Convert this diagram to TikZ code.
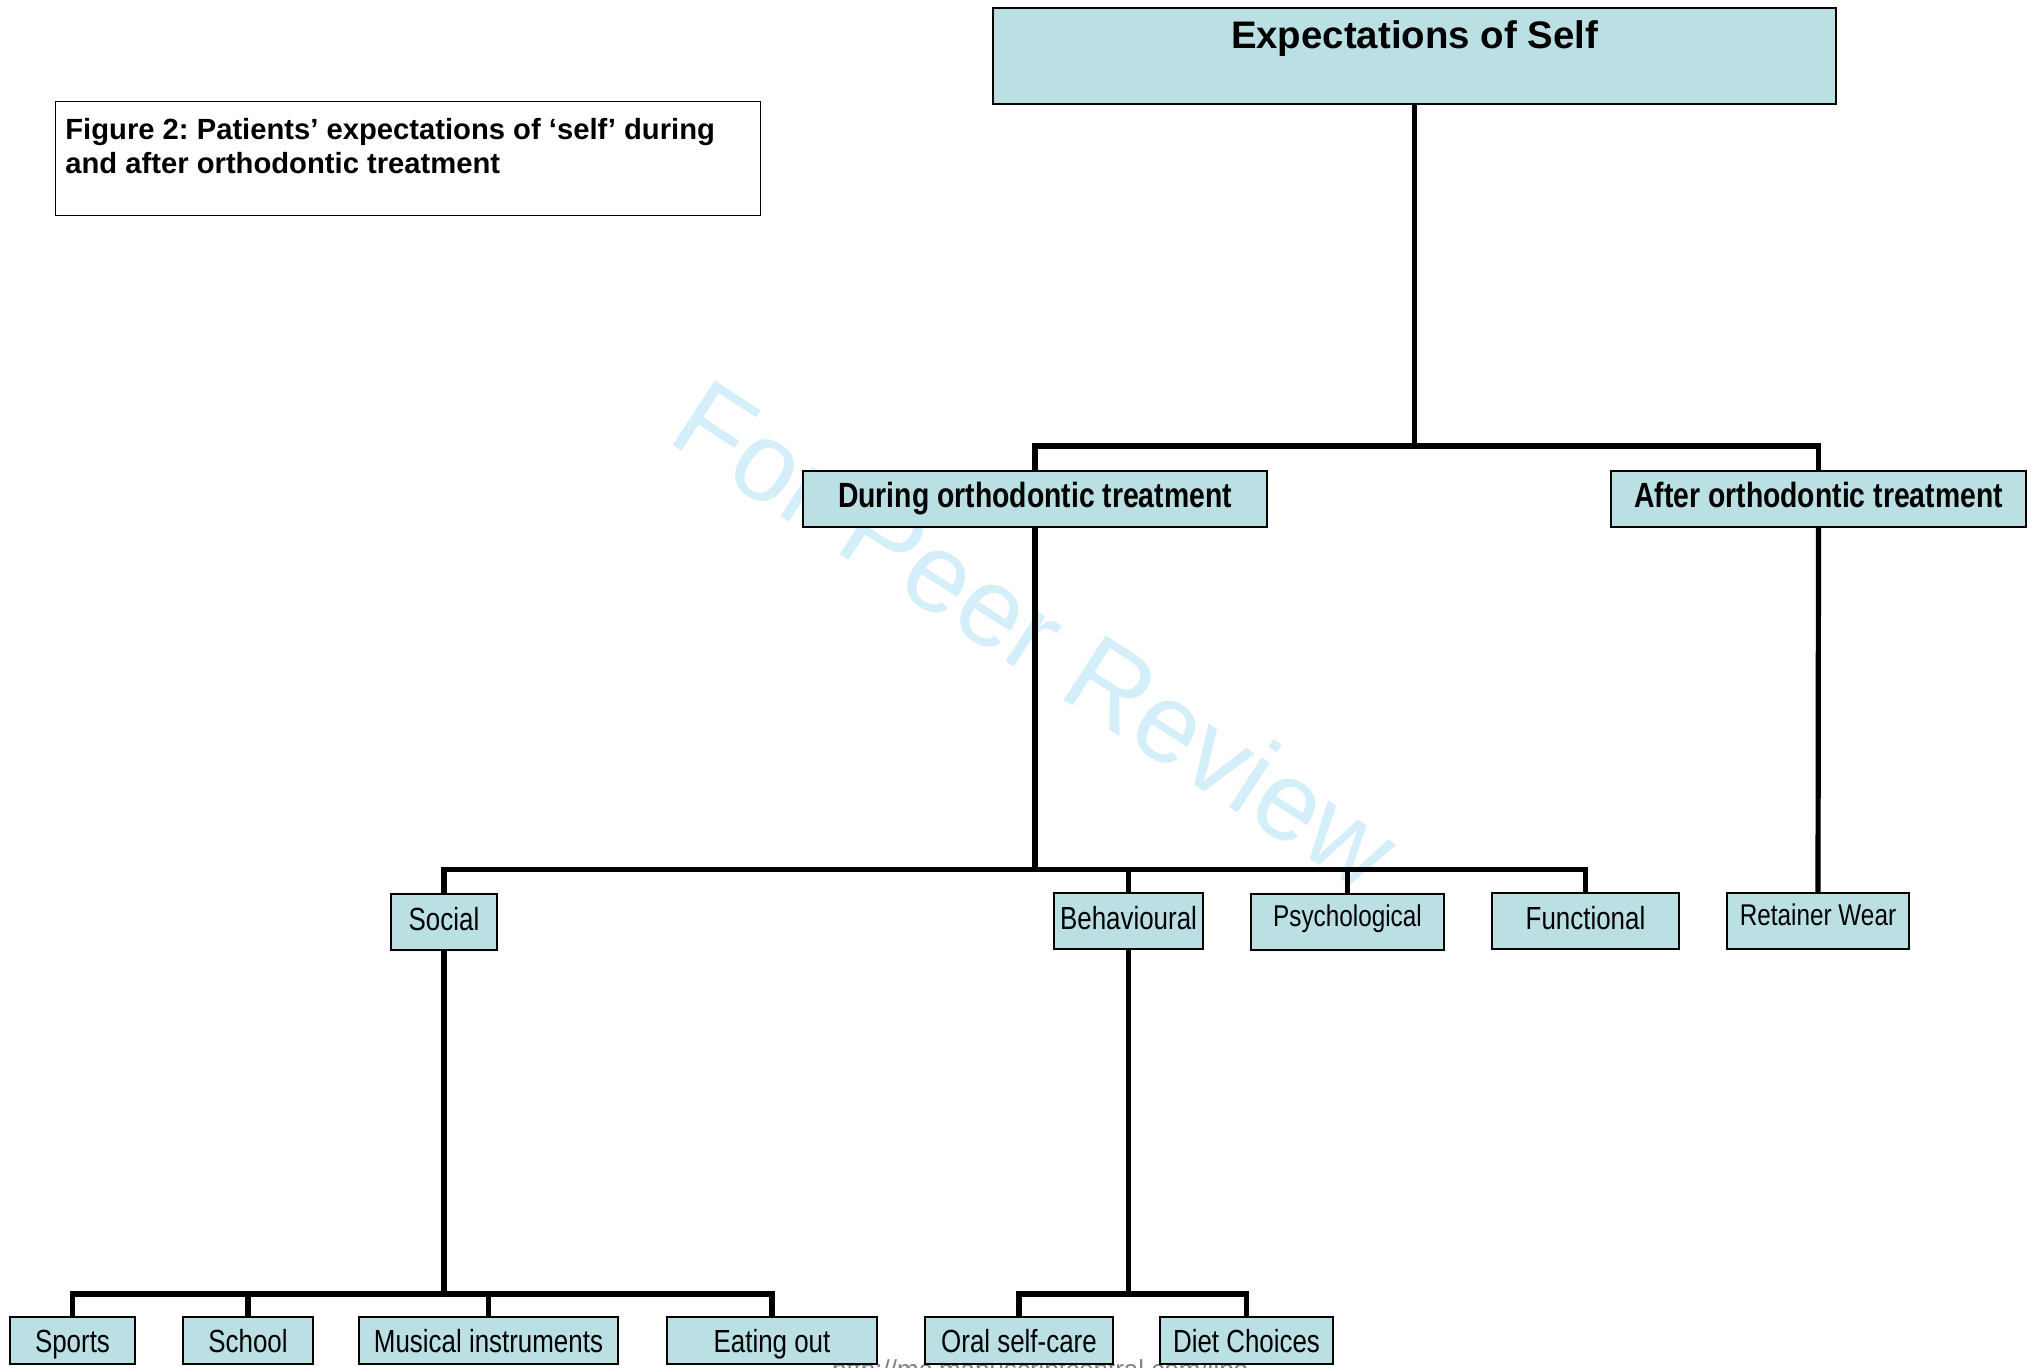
\documentclass[tikz,border=0pt]{standalone}
\usepackage{fontspec}
\setmainfont{Liberation Sans}
\newfontfamily\narrowsans[FakeStretch=0.81]{Liberation Sans}
\frenchspacing
\definecolor{boxfill}{RGB}{186,224,228}
\definecolor{stampblue}{RGB}{212,238,250}
\tikzset{
  box/.style={draw, fill=boxfill, line width=0.9pt, inner sep=0pt, font=\narrowsans\fontsize{16}{18}\selectfont},
  midbox/.style={box, text height=18.2pt, text depth=9.8pt, font=\narrowsans\bfseries\fontsize{17.5}{20}\selectfont},
  leaf/.style={box, text height=18.2pt, text depth=9.8pt},
  smallleaf/.style={box, text height=16.3pt, text depth=11.7pt, font=\narrowsans\fontsize{15}{17}\selectfont},
  foot/.style={box, text height=17.5pt, text depth=6pt},
  conn/.style={line width=2.6pt},
}
\begin{document}
\begin{tikzpicture}[x=0.5pt,y=-0.5pt]
  \useasboundingbox (0,0) rectangle (2035,1367);
  % stamp and footer behind the chart
  \node[rotate=-33, anchor=base, text=stampblue, font=\fontsize{56}{60}\selectfont] (stamp) at (1015,668) {For Peer Review};
  \node[anchor=base west, text=gray, font=\fontsize{13}{15}\selectfont] (url) at (825,1378) {http://mc.manuscriptcentral.com/ijpo};
  % caption
  \node[draw, line width=0.7pt, minimum width=352.5pt, minimum height=57pt, inner sep=0pt, anchor=north west] (capbox) at (55,101) {};
  \node[anchor=north west, align=left, inner sep=0pt, font=\bfseries\fontsize{14.6}{17}\selectfont] (caption) at (65,118) {Figure 2: Patients’ expectations of ‘self’ during\\and after orthodontic treatment};
  % boxes
  \node[box, minimum width=421.5pt, text height=20pt, text depth=28pt, font=\bfseries\fontsize{19.2}{22}\selectfont] (self) at (1414.5,56) {Expectations of Self};
  \node[midbox, minimum width=232pt] (during) at (1035,499) {During orthodontic treatment};
  \node[midbox, minimum width=207.5pt] (after) at (1818.5,499) {After orthodontic treatment};
  \node[leaf, minimum width=53pt] (social) at (444,922) {Social};
  \node[leaf, minimum width=74.5pt] (behav) at (1128.5,921) {Behavioural};
  \node[smallleaf, minimum width=96.5pt] (psych) at (1347.5,922) {Psychological};
  \node[leaf, minimum width=93.5pt] (func) at (1585.5,921) {Functional};
  \node[smallleaf, minimum width=91pt] (retainer) at (1818,921) {Retainer Wear};
  \node[foot, minimum width=62.5pt] (sports) at (72.5,1340.5) {Sports};
  \node[foot, minimum width=65pt] (school) at (248,1340.5) {School};
  \node[foot, minimum width=129.5pt] (musical) at (488.5,1340.5) {Musical instruments};
  \node[foot, minimum width=105pt] (eating) at (772,1340.5) {Eating out};
  \node[foot, minimum width=94pt] (oral) at (1019,1340.5) {Oral self-care};
  \node[foot, minimum width=86.5pt] (diet) at (1246.5,1340.5) {Diet Choices};
  % connectors
  \coordinate (j1) at (0,446);
  \coordinate (j2) at (0,869.5);
  \coordinate (j3) at (0,1294);
  \draw[conn] (self.south) |- (during.north |- j1) -- (during.north);
  \draw[conn] (self.south) |- (after.north |- j1) -- (after.north);
  \draw[conn] (after.south) -- (retainer.north);
  \draw[conn] (during.south) |- (social.north |- j2) -- (social.north);
  \draw[conn] (during.south) |- (behav.north |- j2) -- (behav.north);
  \draw[conn] (during.south) |- (psych.north |- j2) -- (psych.north);
  \draw[conn] (during.south) |- (func.north |- j2) -- (func.north);
  \draw[conn] (social.south) |- (sports.north |- j3) -- (sports.north);
  \draw[conn] (social.south) |- (school.north |- j3) -- (school.north);
  \draw[conn] (social.south) |- (musical.north |- j3) -- (musical.north);
  \draw[conn] (social.south) |- (eating.north |- j3) -- (eating.north);
  \draw[conn] (behav.south) |- (oral.north |- j3) -- (oral.north);
  \draw[conn] (behav.south) |- (diet.north |- j3) -- (diet.north);
\end{tikzpicture}
\end{document}
